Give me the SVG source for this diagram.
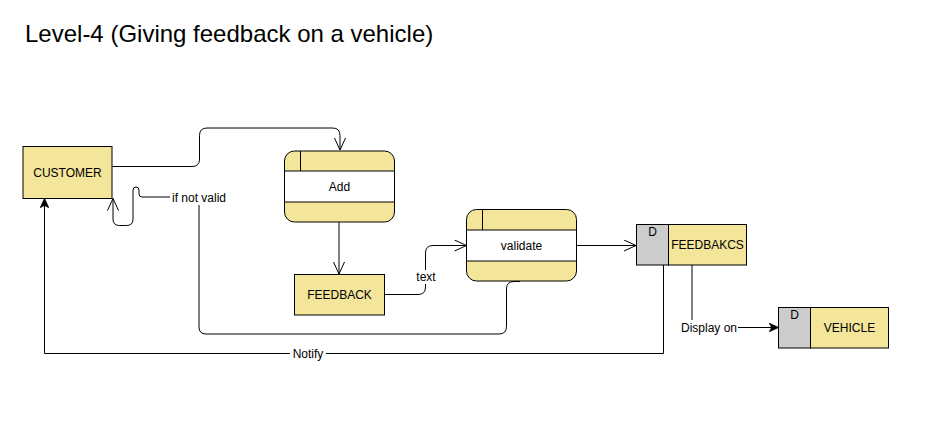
<svg xmlns="http://www.w3.org/2000/svg" width="948" height="441" viewBox="0 0 948 441">
<defs>
<style>
.box{fill:#F3E59A;stroke:#000;stroke-width:1}
.gray{fill:#CCCCCC;stroke:#000;stroke-width:1}
.t{font-family:"Liberation Sans",Arial,sans-serif;font-size:12px;fill:#000;text-anchor:middle;dominant-baseline:central}
.edge{fill:none;stroke:#000;stroke-width:1}
.lbg{fill:#fff}
</style>
<marker id="open" viewBox="0 0 14 12" refX="13" refY="6" markerWidth="14" markerHeight="12" markerUnits="userSpaceOnUse" orient="auto">
<path d="M1,0.5 L13,6 L1,11.5" fill="none" stroke="#000" stroke-width="1"/>
</marker>
<marker id="block" viewBox="0 0 10 9" refX="9.5" refY="4.5" markerWidth="10" markerHeight="9" markerUnits="userSpaceOnUse" orient="auto">
<path d="M0,0 L10,4.5 L0,9 L2.5,4.5 Z" fill="#000" stroke="#000" stroke-width="0.5"/>
</marker>
</defs>
<rect width="948" height="441" fill="#fff"/>
<text x="25" y="42" font-family="'Liberation Sans',Arial,sans-serif" font-size="24" fill="#000">Level-4 (Giving feedback on a vehicle)</text>

<g id="connectors">
<path class="edge" d="M112,166.5 L192,166.5 Q199.5,166.5 199.5,159 L199.5,135.5 Q199.5,128 207,128 L332.5,128 Q340,128 340,135.5 L340,150" marker-end="url(#open)"/>
<path class="edge" d="M339,222 L339,274" marker-end="url(#open)"/>
<path class="edge" d="M384,294.5 L418,294.5 Q425.5,294.5 425.5,287 L425.5,253 Q425.5,245.5 433,245.5 L466.5,245.5" marker-end="url(#open)"/>
<rect class="lbg" x="414" y="270" width="24" height="14"/>
<text class="t" x="426" y="277">text</text>
<path class="edge" d="M576,245.5 L636,245.5" marker-end="url(#open)"/>
<path class="edge" d="M520,281.5 L514,281.5 Q506.5,281.5 506.5,289 L506.5,326.5 Q506.5,334 499,334 L206,334 Q199,334 199,327 L199,197 L142,197 Q139,197 139,194 L139,190 Q139,187 136,187 Q133,187 133,190 L133,219 Q133,225.5 126.5,225.5 L119.5,225.5 Q113,225.5 113,219 L113,198.5" marker-end="url(#open)"/>
<rect class="lbg" x="170" y="190" width="58" height="15"/>
<text class="t" x="199" y="198">if not valid</text>
<path class="edge" d="M663.5,265 L663.5,353.5 L44.5,353.5 L44.5,198.5" marker-end="url(#block)"/>
<rect class="lbg" x="290" y="346" width="36" height="15"/>
<text class="t" x="308" y="353.5">Notify</text>
<path class="edge" d="M692,265 L692,327.5 L778.5,327.5" marker-end="url(#block)"/>
<rect class="lbg" x="680" y="320" width="58" height="15"/>
<text class="t" x="709" y="327.5">Display on</text>
</g>

<g id="customer">
<rect class="box" x="23" y="146.5" width="89" height="52"/>
<text class="t" x="67.5" y="172.5">CUSTOMER</text>
</g>

<g id="add">
<rect class="box" x="284.5" y="151" width="110" height="71" rx="10" ry="10"/>
<rect x="285" y="171" width="109" height="31" fill="#fff"/>
<line class="edge" x1="284.5" y1="171" x2="394.5" y2="171"/>
<line class="edge" x1="284.5" y1="202" x2="394.5" y2="202"/>
<line class="edge" x1="300.5" y1="151" x2="300.5" y2="171"/>
<text class="t" x="339.5" y="186.5">Add</text>
</g>

<g id="feedback">
<rect class="box" x="294.5" y="274.5" width="90" height="40.5"/>
<text class="t" x="339.5" y="295">FEEDBACK</text>
</g>

<g id="validate">
<rect class="box" x="466.5" y="209.5" width="110" height="71.5" rx="10" ry="10"/>
<rect x="467" y="230" width="109" height="31" fill="#fff"/>
<line class="edge" x1="466.5" y1="230" x2="576.5" y2="230"/>
<line class="edge" x1="466.5" y1="261" x2="576.5" y2="261"/>
<line class="edge" x1="482.5" y1="209.5" x2="482.5" y2="230"/>
<text class="t" x="521.5" y="245.5">validate</text>
</g>

<g id="feedbakcs">
<rect class="gray" x="636.5" y="224.5" width="32" height="40.5"/>
<rect class="box" x="668.5" y="224.5" width="78" height="40.5"/>
<text class="t" x="652.5" y="232">D</text>
<text class="t" x="707.5" y="245">FEEDBAKCS</text>
</g>

<g id="vehicle">
<rect class="gray" x="778.5" y="307.5" width="32" height="40.5"/>
<rect class="box" x="810.5" y="307.5" width="78" height="40.5"/>
<text class="t" x="794.5" y="315">D</text>
<text class="t" x="849.5" y="328">VEHICLE</text>
</g>
</svg>
